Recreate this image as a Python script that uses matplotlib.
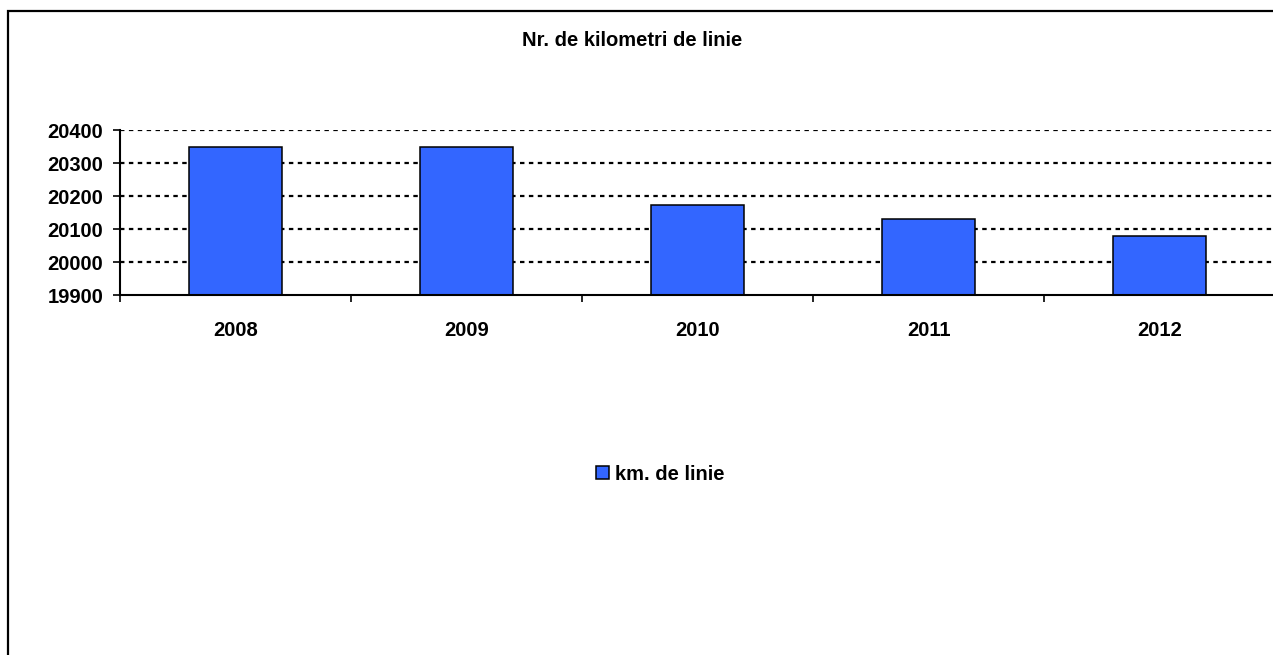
import matplotlib.pyplot as plt
from matplotlib.patches import Rectangle

plt.rcParams['font.family'] = ['Liberation Sans', 'DejaVu Sans']
plt.rcParams['font.weight'] = 'bold'

years = ['2008', '2009', '2010', '2011', '2012']
km_linie = [20347, 20347, 20173, 20130, 20080]
yticks = [19900, 20000, 20100, 20200, 20300, 20400]

W, H = 1273, 655
fs = 14.5
fig = plt.figure(figsize=(W / 100, H / 100), dpi=100)
ax = fig.add_axes([120 / W, 1 - 295 / H, (1275 - 120) / W, (295 - 130) / H])

x = range(len(years))
ax.bar(x, [v - 19900 for v in km_linie], bottom=19900, width=0.4,
       color='#3366FF', edgecolor='black', linewidth=1.1, zorder=3,
       label='km. de linie')

ax.set_xlim(-0.5, len(years) - 0.5)
ax.set_ylim(19900, 20400)
ax.set_yticks(yticks)
ax.set_yticklabels([str(t) for t in yticks], fontsize=fs, fontweight='bold')
ax.set_xticks(list(x))
ax.set_xticklabels(years, fontsize=fs, fontweight='bold')
ax.set_xticks([i - 0.5 for i in range(len(years) + 1)], minor=True)
ax.tick_params(axis='x', which='major', length=0, pad=19)
ax.tick_params(axis='x', which='minor', length=5, width=1.2, direction='out')
ax.tick_params(axis='y', length=5, width=1.2, pad=7)

for t in yticks[1:]:
    ax.axhline(t, color='black', linewidth=1.6, linestyle=(0, (2.0, 2.0)), zorder=1)

for s in ['top', 'right']:
    ax.spines[s].set_visible(False)
for s in ['left', 'bottom']:
    ax.spines[s].set_linewidth(1.5)
    ax.spines[s].set_zorder(4)

fig.text(632 / W, 1 - 40 / H, 'Nr. de kilometri de linie', ha='center', va='center',
         fontsize=fs, fontweight='bold')

fig.legend(loc='center', bbox_to_anchor=(660 / W, 1 - 474 / H), frameon=False,
           prop={'size': fs, 'weight': 'bold'}, handlelength=0.65, handleheight=0.65,
           handletextpad=0.3)

fig.patches.append(Rectangle((8 / W, -0.1), 2, (1 - 11 / H) + 0.1,
                             transform=fig.transFigure, fill=False,
                             edgecolor='black', linewidth=1.6))

fig.savefig('out.png', dpi=100)
